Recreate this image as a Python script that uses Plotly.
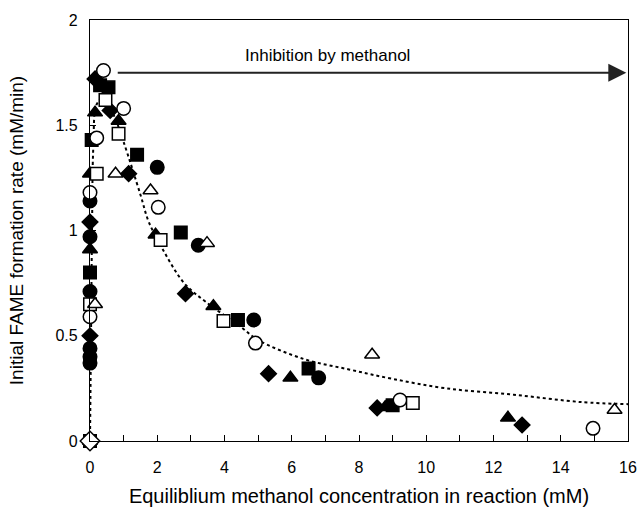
import plotly.graph_objects as go

# ---- data ----
fit_x = [0, 0.03, 0.06, 0.1, 0.2, 0.4, 0.7, 1.0, 1.5, 1.75, 2.2, 2.8, 3.45, 4.5, 5.0, 6.35, 7.7, 9.0, 10.6, 12.6, 14.6, 16.0]
fit_y = [0, 0.5, 1.0, 1.4, 1.6, 1.63, 1.55, 1.42, 1.17, 1.04, 0.90, 0.75, 0.66, 0.54, 0.48, 0.39, 0.34, 0.295, 0.25, 0.22, 0.185, 0.175]

fcirc_x = [0, 0, 0, 0, 0, 0, 0, 2.0, 3.22, 4.87, 6.8]
fcirc_y = [0.97, 0.71, 0.44, 0.40, 0.37, 1.14, 0, 1.30, 0.93, 0.575, 0.30]

fsq_x = [0, 0, 0.05, 0.3, 0.55, 1.4, 2.7, 4.4, 6.5, 9.0]
fsq_y = [0, 0.80, 1.43, 1.69, 1.68, 1.36, 0.99, 0.575, 0.345, 0.17]

fdia_x = [0, 0, 0.15, 0.6, 1.15, 2.84, 5.31, 8.54, 12.85]
fdia_y = [1.04, 0.50, 1.72, 1.57, 1.27, 0.70, 0.32, 0.157, 0.076]

ftri_x = [0, 0, 0, 0.15, 0.85, 1.95, 3.67, 5.96, 8.78, 12.43]
ftri_y = [0, 1.27, 0.91, 1.56, 1.52, 0.98, 0.64, 0.30, 0.16, 0.11]

ocirc_x = [0.4, 1.0, 0.2, 0, 0, 2.03, 4.92, 9.22, 14.96]
ocirc_y = [1.76, 1.58, 1.44, 1.18, 0.59, 1.11, 0.465, 0.195, 0.06]

osq_x = [0.46, 0.85, 0.2, 0, 2.1, 3.97, 9.6]
osq_y = [1.62, 1.46, 1.27, 0.65, 0.955, 0.57, 0.18]

otri_x = [0.76, 0.15, 1.8, 3.48, 8.39, 15.6]
otri_y = [1.27, 0.65, 1.19, 0.94, 0.41, 0.147]

odia_x = [0]
odia_y = [0]

x_ticks = [0, 2, 4, 6, 8, 10, 12, 14, 16]
y_ticks = [0, 0.5, 1, 1.5, 2]
y_tick_text = ["0", "0.5", "1", "1.5", "2"]

arrow_start_x, arrow_end_x, arrow_y = 0.78, 15.95, 1.75
label_x, label_y = 7.05, 1.83

FONT = "Liberation Sans, Arial, sans-serif"

fig = go.Figure()
fig.add_trace(go.Scatter(x=fit_x, y=fit_y, mode="lines", line=dict(color="black", width=2, dash="dot", shape="spline"),
                         cliponaxis=False, hoverinfo="skip"))

def add(xs, ys, symbol, filled, size=13):
    fig.add_trace(go.Scatter(
        x=xs, y=ys, mode="markers", cliponaxis=False,
        marker=dict(symbol=symbol, size=size,
                    color="black" if filled else "white",
                    line=dict(color="black", width=1.5))))

add(fcirc_x, fcirc_y, "circle", True, 13.5)
add(fsq_x, fsq_y, "square", True, 12.5)
add(fdia_x, fdia_y, "diamond", True, 12)
add(ftri_x, ftri_y, "triangle-up", True, 13)
add(ocirc_x, ocirc_y, "circle", False, 13.5)
add(osq_x, osq_y, "square", False, 12.5)
add(otri_x, otri_y, "triangle-up", False, 13)
add(odia_x, odia_y, "diamond", False, 15)

fig.add_annotation(x=arrow_end_x, y=arrow_y, ax=arrow_start_x, ay=arrow_y, xref="x", yref="y", axref="x", ayref="y",
                   showarrow=True, arrowhead=2, arrowsize=1.8, arrowwidth=2, arrowcolor="#222", text="")
fig.add_annotation(x=label_x, y=label_y, xref="x", yref="y", text="Inhibition by methanol", showarrow=False,
                   font=dict(family=FONT, size=17, color="black"))

fig.update_layout(
    width=642, height=508,
    margin=dict(l=90, r=14, t=20, b=67),
    paper_bgcolor="white", plot_bgcolor="white",
    showlegend=False,
    font=dict(family=FONT, size=16, color="black"),
    xaxis=dict(range=[0, 16], tickvals=x_ticks, ticks="inside", ticklen=6, tickcolor="black",
               minor=dict(dtick=1, ticks="inside", ticklen=6, tickcolor="black"),
               ticklabelstandoff=12, automargin=False,
               showline=True, mirror=True, linecolor="black", linewidth=1.2,
               showgrid=False, zeroline=False,
               title=dict(text="Equiliblium methanol concentration in reaction (mM)", font=dict(size=20), standoff=13)),
    yaxis=dict(range=[0, 2], tickvals=y_ticks, ticktext=y_tick_text, ticks="inside", ticklen=6, tickcolor="black",
               ticklabelstandoff=8, automargin=False,
               showline=True, mirror=True, linecolor="black", linewidth=1.2,
               showgrid=False, zeroline=False,
               title=dict(text="Initial FAME formation rate (mM/min)", font=dict(size=19), standoff=26)),
)

fig.write_html("out.html")
